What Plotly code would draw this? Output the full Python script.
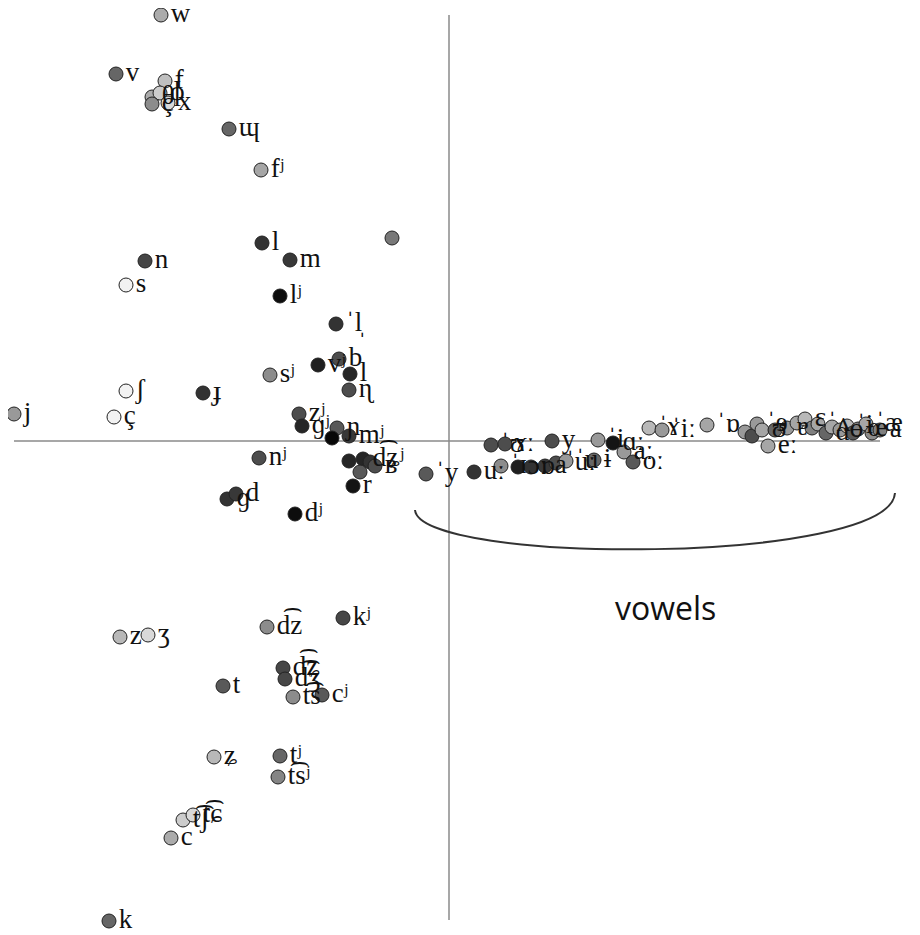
import plotly.graph_objects as go

# ---- data (component scores) ----
labels = [
    "w", "v", "f", "θ", "ɸ", "ç", "x", "ɰ", "fʲ", "l",
    "", "m", "n", "s", "lʲ", "ˈl̩", "vʲ", "b", "l", "ɳ",
    "ʃ", "ɟ", "j", "ç", "sʲ", "zʲ", "ɡʲ", "ɲ", "", "mʲ",
    "nʲ", "", "d͡ʑʲ", "", "ʙ", "", "r", "ɡ", "d", "dʲ",
    "d͡z", "kʲ", "z", "ʒ", "d͡ʑ", "d͡ʒ", "t", "t͡s", "cʲ", "ʑ",
    "tʲ", "t͡sʲ", "t͡ʃ", "t͡ɕ", "c", "k",
    "ˈy", "uː", "ˈʊ", "ɤː", "y", "ˈɪ", "ɔː", "ɒ", "a", "ˈuː",
    "ˈu", "ɨ", "ˈi", "ɑː", "aː", "oː", "ˈɤ", "ˈiː", "ˈɒ", "",
    "", "ˈɘ", "ʊ", "eː", "", "ɐ", "", "ɛ", "", "ˈʌ",
    "ɑ", "", "ɵ", "ˈɨ", "", "œ", "ˈæ", "", "a",
]
x_vals = [
    -2.88, -3.33, -2.84, -2.97, -2.89, -2.97, -2.81, -2.20, -1.88, -1.87,
    -0.57, -1.59, -3.04, -3.23, -1.69, -1.13, -1.31, -1.10, -0.99, -1.00,
    -3.23, -2.46, -4.35, -3.35, -1.79, -1.50, -1.47, -1.12, -1.17, -1.00,
    -1.90, -1.00, -0.86, -0.79, -0.74, -0.89, -0.96, -2.22, -2.13, -1.54,
    -1.82, -1.06, -3.29, -3.01, -1.66, -1.64, -2.26, -1.56, -1.27, -2.35,
    -1.69, -1.71, -2.66, -2.56, -2.78, -3.40,
    -0.23, 0.25, 0.42, 0.56, 1.03, 0.52, 0.69, 0.82, 0.96, 1.07,
    1.17, 1.45, 1.49, 1.64, 1.75, 1.84, 2.00, 2.13, 2.58, 2.96,
    3.03, 3.08, 3.13, 3.19, 3.26, 3.38, 3.48, 3.56, 3.63, 3.69,
    3.77, 3.83, 3.91, 3.98, 4.04, 4.09, 4.17, 4.23, 4.31,
]
y_vals = [
    4.26, 3.67, 3.60, 3.44, 3.48, 3.37, 3.38, 3.12, 2.71, 1.98,
    2.03, 1.81, 1.80, 1.56, 1.45, 1.17, 0.76, 0.82, 0.67, 0.51,
    0.50, 0.48, 0.27, 0.24, 0.66, 0.27, 0.15, 0.13, 0.03, 0.05,
    -0.17, -0.20, -0.18, -0.21, -0.25, -0.31, -0.45, -0.58, -0.53, -0.73,
    -1.86, -1.77, -1.96, -1.94, -2.27, -2.38, -2.45, -2.56, -2.54, -3.16,
    -3.15, -3.36, -3.79, -3.74, -3.97, -4.80,
    -0.33, -0.31, -0.04, -0.03, 0.00, -0.25, -0.26, -0.26, -0.25, -0.22,
    -0.20, -0.19, 0.01, -0.02, -0.11, -0.21, 0.13, 0.11, 0.16, 0.09,
    0.05, 0.17, 0.11, -0.05, 0.11, 0.13, 0.18, 0.22, 0.13, 0.17,
    0.08, 0.14, 0.11, 0.15, 0.08, 0.12, 0.17, 0.08, 0.11,
]
# grey level of each point (0 = black, 1 = white)
shade = [
    0.67, 0.40, 0.75, 0.67, 0.80, 0.55, 0.85, 0.40, 0.65, 0.20,
    0.47, 0.22, 0.27, 0.95, 0.05, 0.20, 0.12, 0.30, 0.15, 0.30,
    0.95, 0.20, 0.60, 0.95, 0.55, 0.30, 0.15, 0.35, 0.03, 0.22,
    0.30, 0.15, 0.15, 0.20, 0.30, 0.35, 0.08, 0.20, 0.22, 0.05,
    0.55, 0.28, 0.72, 0.85, 0.28, 0.28, 0.35, 0.55, 0.35, 0.72,
    0.40, 0.52, 0.80, 0.85, 0.67, 0.40,
    0.35, 0.20, 0.30, 0.30, 0.30, 0.55, 0.12, 0.20, 0.22, 0.30,
    0.60, 0.40, 0.60, 0.08, 0.60, 0.35, 0.72, 0.60, 0.65, 0.60,
    0.30, 0.60, 0.65, 0.65, 0.40, 0.60, 0.65, 0.72, 0.50, 0.65,
    0.40, 0.65, 0.60, 0.72, 0.35, 0.50, 0.65, 0.55, 0.50,
]

# the page has an 8px body margin, so the figure starts at (8, 8)
X_RANGE = [-4.41, 4.71]
Y_RANGE = [-4.94, 4.33]

fig = go.Figure()

# axis cross
fig.add_shape(type="line", x0=0, x1=0, y0=4.26, y1=-4.79,
              line=dict(color="#8a8a8a", width=1.5), layer="below")
fig.add_shape(type="line", x0=-4.35, x1=4.31, y0=0, y1=0,
              line=dict(color="#8a8a8a", width=1.5), layer="below")

fig.add_trace(go.Scatter(
    x=x_vals, y=y_vals, text=labels,
    mode="markers+text", textposition="middle right",
    marker=dict(size=14, color=shade, cmin=0, cmax=1,
                colorscale=[[0, "rgb(0,0,0)"], [1, "rgb(255,255,255)"]],
                line=dict(color="#222222", width=1)),
    textfont=dict(family="Liberation Serif, DejaVu Serif, serif", size=27, color="#111111"),
    hoverinfo="text", showlegend=False, cliponaxis=False,
))

# brace around the vowels
fig.add_shape(type="path",
              path="M -0.34,-0.69 C -0.29,-1.24 4.41,-1.24 4.46,-0.52",
              line=dict(color="#333333", width=2))
fig.add_annotation(x=2.16, y=-1.66, text="vowels", showarrow=False,
                   font=dict(family="Open Sans, DejaVu Sans, sans-serif", size=32, color="#111111"))

fig.update_xaxes(range=X_RANGE, visible=False, showgrid=False, zeroline=False)
fig.update_yaxes(range=Y_RANGE, visible=False, showgrid=False, zeroline=False)
fig.update_layout(width=912, height=927, margin=dict(l=0, r=0, t=0, b=0),
                  plot_bgcolor="white", paper_bgcolor="white")

fig.write_html("out.html")
